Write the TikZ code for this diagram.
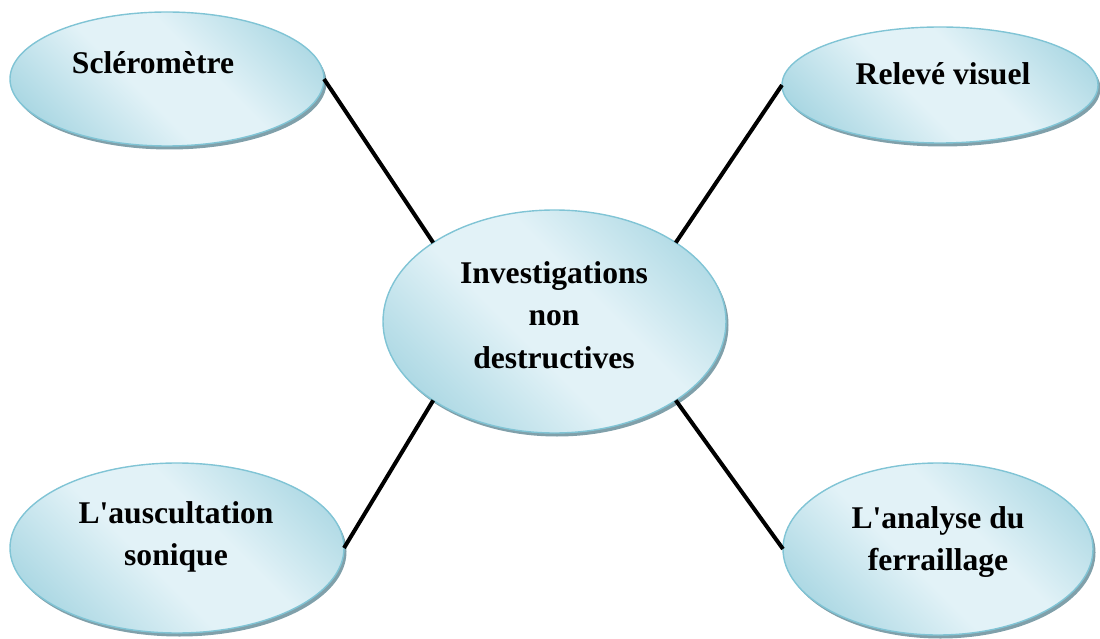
\documentclass[tikz,border=0pt]{standalone}
\usepackage{fontspec}
\setmainfont{Liberation Serif}
\usetikzlibrary{shapes.geometric,shadows}

\definecolor{bubbledark}{RGB}{168,214,226}
\definecolor{bubblelight}{RGB}{226,242,247}
\definecolor{bubbleedge}{RGB}{128,196,213}
\definecolor{bubbleshadow}{RGB}{128,160,170}

% broad light band across the ellipse, darker towards two opposite corners
\pgfdeclarehorizontalshading{bubbleband}{100bp}{%
  color(0bp)=(bubbledark); color(22bp)=(bubbledark);
  color(44bp)=(bubblelight); color(58bp)=(bubblelight);
  color(80bp)=(bubbledark); color(100bp)=(bubbledark)}

\tikzset{
  bubble/.style={
    ellipse, inner sep=0pt, outer sep=0pt,
    draw=bubbleedge, line width=1.4pt,
    shading=bubbleband, shading angle=45,
    general shadow={fill=bubbleshadow, shadow xshift=2.5pt, shadow yshift=-3.5pt}
  },
  caption/.style={
    font=\bfseries\fontsize{31.6}{42.5}\selectfont,
    align=center, inner sep=0pt, text=black
  },
  link/.style={draw=black, line width=4pt}
}

\begin{document}
\begin{tikzpicture}[x=1pt,y=-1pt]
  \useasboundingbox (0,0) rectangle (1100,639);

  % ellipses
  \node[bubble, minimum width=314pt, minimum height=134pt] (sclero) at (167,79) {};
  \node[bubble, minimum width=316pt, minimum height=116pt] (releve) at (940,85) {};
  \node[bubble, minimum width=343pt, minimum height=223pt] (centre) at (554.5,321.5) {};
  \node[bubble, minimum width=334pt, minimum height=170pt] (auscult) at (177,548) {};
  \node[bubble, minimum width=310pt, minimum height=172pt] (ferrail) at (938,549) {};

  % labels
  \node[caption] (tsclero) at (153,63) {Scléromètre};
  \node[caption] (treleve) at (943,74) {Relevé visuel};
  \node[caption] (tcentre) at (554,315) {Investigations\\non\\destructives};
  \node[caption] (tauscult) at (176,537) {L\textquotesingle auscultation\\sonique};
  \node[caption] (tferrail) at (938,542) {L\textquotesingle analyse du\\ferraillage};

  % connectors
  \draw[link] (sclero.east) -- (centre.north west);
  \draw[link] (releve.west) -- (centre.north east);
  \draw[link] (auscult.east) -- (centre.south west);
  \draw[link] (ferrail.west) -- (centre.south east);
\end{tikzpicture}
\end{document}
